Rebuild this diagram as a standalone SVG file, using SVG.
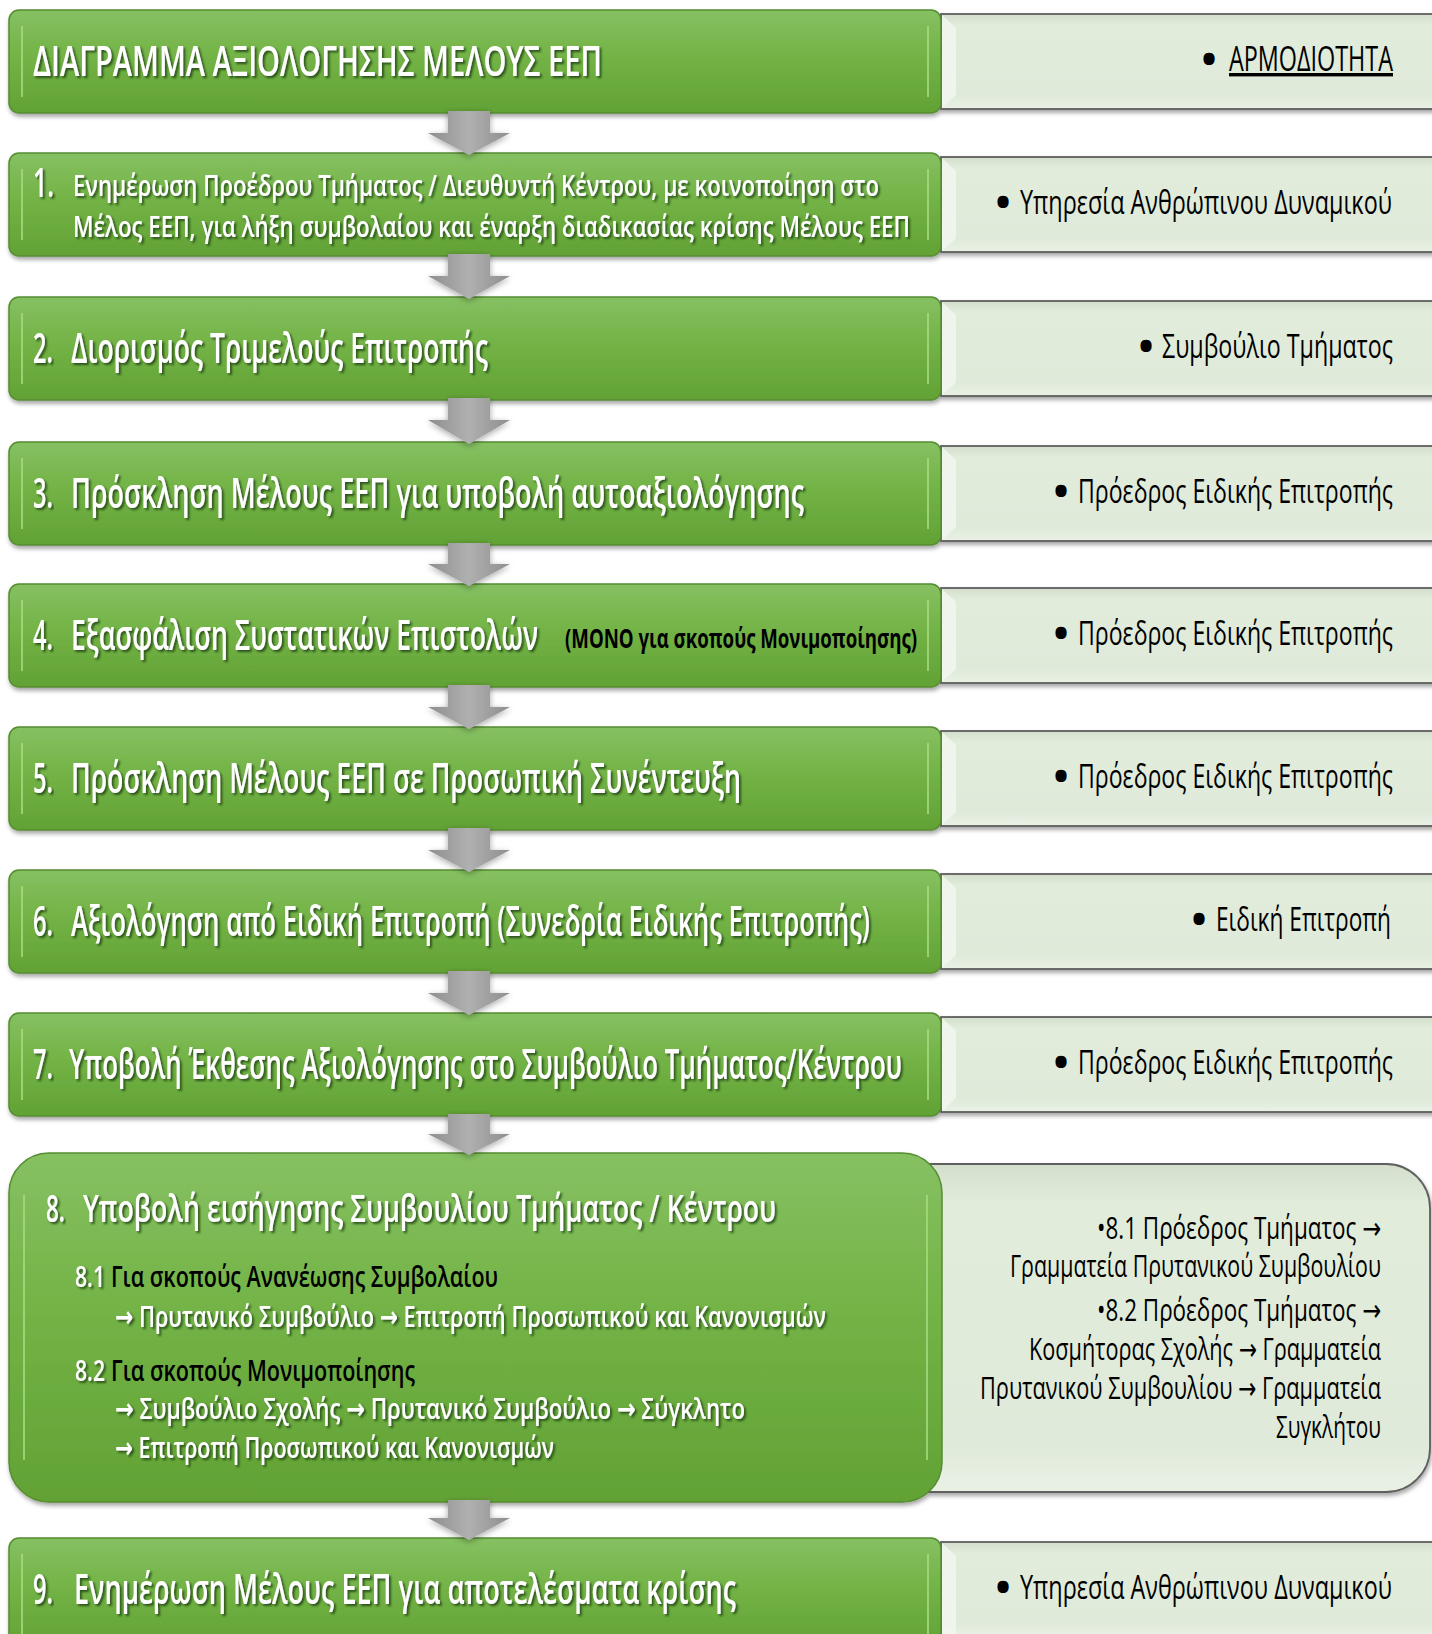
<svg xmlns="http://www.w3.org/2000/svg" width="1432" height="1634" viewBox="0 0 1432 1634">
<defs>
<linearGradient id="gg" x1="0" y1="0" x2="0" y2="1">
<stop offset="0" stop-color="#86c162"/><stop offset="0.45" stop-color="#73b346"/><stop offset="1" stop-color="#62a235"/>
</linearGradient>
<linearGradient id="rg" x1="0" y1="0" x2="0" y2="1">
<stop offset="0" stop-color="#d3dfcc"/><stop offset="0.12" stop-color="#e1ecdb"/><stop offset="0.85" stop-color="#dfeada"/><stop offset="1" stop-color="#e9f1e5"/>
</linearGradient>
<linearGradient id="ag" x1="0" y1="0" x2="1" y2="0">
<stop offset="0" stop-color="#8e8e8e"/><stop offset="0.5" stop-color="#b0b0b0"/><stop offset="1" stop-color="#8e8e8e"/>
</linearGradient>
<filter id="bs" x="-5%" y="-10%" width="110%" height="130%">
<feDropShadow dx="1" dy="3" stdDeviation="2" flood-color="#000" flood-opacity="0.35"/>
</filter>
<filter id="as" x="-30%" y="-30%" width="160%" height="170%">
<feDropShadow dx="0" dy="2" stdDeviation="3" flood-color="#000" flood-opacity="0.35"/>
</filter>
<filter id="ts" x="-5%" y="-20%" width="110%" height="150%">
<feDropShadow dx="2" dy="2" stdDeviation="1.2" flood-color="#1f3a10" flood-opacity="0.8"/>
</filter>
</defs>
<style>
.g{fill:url(#gg);stroke:#568c31;stroke-width:1.5}
.gb{fill:none;stroke:#a6dc7e;stroke-width:2;stroke-opacity:0.8}
.r{fill:url(#rg);stroke:#5e5e5e;stroke-width:1.8}
.rb{fill:#f3f7f0;opacity:0.8}
.t{font-family:"Open Sans","Noto Sans","DejaVu Sans",sans-serif}
.w{fill:#fff;font-weight:600;filter:url(#ts)}
.k{fill:#000}
.b{fill:#000;text-anchor:middle;font-size:40px;font-weight:bold}
.a{fill:url(#ag);filter:url(#as)}
</style>

<g id="node-title" filter="url(#bs)">
<rect class="r" x="941" y="14" width="500" height="95"/>
<polygon class="rb" points="942,15 956,28 956,95 942,108"/>
<rect class="g" x="9" y="10" width="932" height="103" rx="10"/>
<path class="gb" d="M22,26 V97 M928,26 V97"/>
</g>
<g id="node-1" filter="url(#bs)">
<rect class="r" x="941" y="157" width="500" height="95"/>
<polygon class="rb" points="942,158 956,171 956,238 942,251"/>
<rect class="g" x="9" y="153" width="932" height="103" rx="10"/>
<path class="gb" d="M22,169 V240 M928,169 V240"/>
</g>
<g id="node-2" filter="url(#bs)">
<rect class="r" x="941" y="301" width="500" height="95"/>
<polygon class="rb" points="942,302 956,315 956,382 942,395"/>
<rect class="g" x="9" y="297" width="932" height="103" rx="10"/>
<path class="gb" d="M22,313 V384 M928,313 V384"/>
</g>
<g id="node-3" filter="url(#bs)">
<rect class="r" x="941" y="446" width="500" height="95"/>
<polygon class="rb" points="942,447 956,460 956,527 942,540"/>
<rect class="g" x="9" y="442" width="932" height="103" rx="10"/>
<path class="gb" d="M22,458 V529 M928,458 V529"/>
</g>
<g id="node-4" filter="url(#bs)">
<rect class="r" x="941" y="588" width="500" height="95"/>
<polygon class="rb" points="942,589 956,602 956,669 942,682"/>
<rect class="g" x="9" y="584" width="932" height="103" rx="10"/>
<path class="gb" d="M22,600 V671 M928,600 V671"/>
</g>
<g id="node-5" filter="url(#bs)">
<rect class="r" x="941" y="731" width="500" height="95"/>
<polygon class="rb" points="942,732 956,745 956,812 942,825"/>
<rect class="g" x="9" y="727" width="932" height="103" rx="10"/>
<path class="gb" d="M22,743 V814 M928,743 V814"/>
</g>
<g id="node-6" filter="url(#bs)">
<rect class="r" x="941" y="874" width="500" height="95"/>
<polygon class="rb" points="942,875 956,888 956,955 942,968"/>
<rect class="g" x="9" y="870" width="932" height="103" rx="10"/>
<path class="gb" d="M22,886 V957 M928,886 V957"/>
</g>
<g id="node-7" filter="url(#bs)">
<rect class="r" x="941" y="1017" width="500" height="95"/>
<polygon class="rb" points="942,1018 956,1031 956,1098 942,1111"/>
<rect class="g" x="9" y="1013" width="932" height="103" rx="10"/>
<path class="gb" d="M22,1029 V1100 M928,1029 V1100"/>
</g>
<g id="node-8" filter="url(#bs)">
<path class="r" d="M925,1164 H1386 A44,44 0 0 1 1430,1208 V1448 A44,44 0 0 1 1386,1492 H925 Z"/>
<rect class="g" x="9" y="1153" width="933" height="349" rx="40"/>
<path class="gb" d="M24,1195 V1460 M927,1195 V1460"/>
</g>
<g id="node-9" filter="url(#bs)">
<rect class="r" x="941" y="1542" width="500" height="95"/>
<polygon class="rb" points="942,1543 956,1556 956,1634 942,1634"/>
<rect class="g" x="9" y="1538" width="932" height="110" rx="10"/>
<path class="gb" d="M22,1554 V1634 M928,1554 V1634"/>
</g>

<g id="connectors">
<path class="a" d="M448,111 H490 V133 H510 L469,155 L428,133 H448 Z"/>
<path class="a" d="M448,254 H490 V276 H510 L469,299 L428,276 H448 Z"/>
<path class="a" d="M448,398 H490 V420 H510 L469,444 L428,420 H448 Z"/>
<path class="a" d="M448,543 H490 V564 H510 L469,586 L428,564 H448 Z"/>
<path class="a" d="M448,685 H490 V707 H510 L469,729 L428,707 H448 Z"/>
<path class="a" d="M448,828 H490 V850 H510 L469,872 L428,850 H448 Z"/>
<path class="a" d="M448,971 H490 V993 H510 L469,1015 L428,993 H448 Z"/>
<path class="a" d="M448,1114 H490 V1134 H510 L469,1155 L428,1134 H448 Z"/>
<path class="a" d="M448,1500 H490 V1518 H510 L469,1540 L428,1518 H448 Z"/>
</g>

<g id="labels" class="t">
<text class="w" x="33" y="76" font-size="41" textLength="569" lengthAdjust="spacingAndGlyphs">ΔΙΑΓΡΑΜΜΑ ΑΞΙΟΛΟΓΗΣΗΣ ΜΕΛΟΥΣ ΕΕΠ</text>
<text class="b" x="1209" y="73">•</text>
<text class="k" x="1229" y="71" font-size="34" textLength="164" lengthAdjust="spacingAndGlyphs" text-decoration="underline">ΑΡΜΟΔΙΟΤΗΤΑ</text>

<text class="w" x="33" y="197" font-size="40" font-weight="bold" textLength="21" lengthAdjust="spacingAndGlyphs">1.</text>
<text class="w" x="73" y="196" font-size="28" textLength="806" lengthAdjust="spacingAndGlyphs">Ενημέρωση Προέδρου Τμήματος / Διευθυντή Κέντρου, με κοινοποίηση στο</text>
<text class="w" x="73" y="237" font-size="28" textLength="837" lengthAdjust="spacingAndGlyphs">Μέλος ΕΕΠ, για λήξη συμβολαίου και έναρξη διαδικασίας κρίσης Μέλους ΕΕΠ</text>
<text class="b" x="1003" y="216">•</text>
<text class="k" x="1020" y="214" font-size="33" textLength="372" lengthAdjust="spacingAndGlyphs">Υπηρεσία Ανθρώπινου Δυναμικού</text>

<text class="w" x="33" y="363" font-size="41" textLength="20" lengthAdjust="spacingAndGlyphs">2.</text>
<text class="w" x="71" y="363" font-size="41" textLength="417" lengthAdjust="spacingAndGlyphs">Διορισμός Τριμελούς Επιτροπής</text>
<text class="b" x="1146" y="360">•</text>
<text class="k" x="1162" y="358" font-size="33" textLength="231" lengthAdjust="spacingAndGlyphs">Συμβούλιο Τμήματος</text>

<text class="w" x="33" y="508" font-size="41" textLength="20" lengthAdjust="spacingAndGlyphs">3.</text>
<text class="w" x="71" y="508" font-size="41" textLength="733" lengthAdjust="spacingAndGlyphs">Πρόσκληση Μέλους ΕΕΠ για υποβολή αυτοαξιολόγησης</text>
<text class="b" x="1061" y="505">•</text>
<text class="k" x="1078" y="503" font-size="33" textLength="315" lengthAdjust="spacingAndGlyphs">Πρόεδρος Ειδικής Επιτροπής</text>

<text class="w" x="33" y="650" font-size="41" textLength="20" lengthAdjust="spacingAndGlyphs">4.</text>
<text class="w" x="71" y="650" font-size="41" textLength="467" lengthAdjust="spacingAndGlyphs">Εξασφάλιση Συστατικών Επιστολών</text>
<text class="k" x="565" y="648" font-size="26" font-weight="bold" textLength="352" lengthAdjust="spacingAndGlyphs">(ΜΟΝΟ για σκοπούς Μονιμοποίησης)</text>
<text class="b" x="1061" y="647">•</text>
<text class="k" x="1078" y="645" font-size="33" textLength="315" lengthAdjust="spacingAndGlyphs">Πρόεδρος Ειδικής Επιτροπής</text>

<text class="w" x="33" y="793" font-size="41" textLength="20" lengthAdjust="spacingAndGlyphs">5.</text>
<text class="w" x="71" y="793" font-size="41" textLength="670" lengthAdjust="spacingAndGlyphs">Πρόσκληση Μέλους ΕΕΠ σε Προσωπική Συνέντευξη</text>
<text class="b" x="1061" y="790">•</text>
<text class="k" x="1078" y="788" font-size="33" textLength="315" lengthAdjust="spacingAndGlyphs">Πρόεδρος Ειδικής Επιτροπής</text>

<text class="w" x="33" y="936" font-size="41" textLength="20" lengthAdjust="spacingAndGlyphs">6.</text>
<text class="w" x="71" y="936" font-size="41" textLength="799" lengthAdjust="spacingAndGlyphs">Αξιολόγηση από Ειδική Επιτροπή (Συνεδρία Ειδικής Επιτροπής)</text>
<text class="b" x="1199" y="933">•</text>
<text class="k" x="1216" y="931" font-size="33" textLength="175" lengthAdjust="spacingAndGlyphs">Ειδική Επιτροπή</text>

<text class="w" x="33" y="1079" font-size="41" textLength="20" lengthAdjust="spacingAndGlyphs">7.</text>
<text class="w" x="69" y="1079" font-size="41" textLength="833" lengthAdjust="spacingAndGlyphs">Υποβολή Έκθεσης Αξιολόγησης στο Συμβούλιο Τμήματος/Κέντρου</text>
<text class="b" x="1061" y="1076">•</text>
<text class="k" x="1078" y="1074" font-size="33" textLength="315" lengthAdjust="spacingAndGlyphs">Πρόεδρος Ειδικής Επιτροπής</text>

<text class="w" x="46" y="1222" font-size="37" textLength="19" lengthAdjust="spacingAndGlyphs">8.</text>
<text class="w" x="83" y="1222" font-size="37" textLength="693" lengthAdjust="spacingAndGlyphs">Υποβολή εισήγησης Συμβουλίου Τμήματος / Κέντρου</text>
<text class="w" x="75" y="1287" font-size="29" textLength="30" lengthAdjust="spacingAndGlyphs">8.1</text>
<text class="k" x="111" y="1287" font-size="29" font-weight="600" textLength="387" lengthAdjust="spacingAndGlyphs">Για σκοπούς Ανανέωσης Συμβολαίου</text>
<text class="w" x="115" y="1327" font-size="29" textLength="711" lengthAdjust="spacingAndGlyphs">→ Πρυτανικό Συμβούλιο →  Επιτροπή Προσωπικού και Κανονισμών</text>
<text class="w" x="75" y="1381" font-size="29" textLength="30" lengthAdjust="spacingAndGlyphs">8.2</text>
<text class="k" x="111" y="1381" font-size="29" font-weight="600" textLength="304" lengthAdjust="spacingAndGlyphs">Για σκοπούς Μονιμοποίησης</text>
<text class="w" x="115" y="1419" font-size="29" textLength="630" lengthAdjust="spacingAndGlyphs">→ Συμβούλιο Σχολής →  Πρυτανικό Συμβούλιο →  Σύγκλητο</text>
<text class="w" x="115" y="1458" font-size="29" textLength="439" lengthAdjust="spacingAndGlyphs">→ Επιτροπή  Προσωπικού και Κανονισμών</text>

<text class="k" x="1097" y="1239" font-size="31" textLength="284" lengthAdjust="spacingAndGlyphs">•8.1  Πρόεδρος Τμήματος →</text>
<text class="k" x="1010" y="1277" font-size="31" textLength="371" lengthAdjust="spacingAndGlyphs">Γραμματεία Πρυτανικού  Συμβουλίου</text>
<text class="k" x="1097" y="1321" font-size="31" textLength="284" lengthAdjust="spacingAndGlyphs">•8.2  Πρόεδρος Τμήματος →</text>
<text class="k" x="1029" y="1360" font-size="31" textLength="352" lengthAdjust="spacingAndGlyphs">Κοσμήτορας Σχολής → Γραμματεία</text>
<text class="k" x="980" y="1399" font-size="31" textLength="401" lengthAdjust="spacingAndGlyphs">Πρυτανικού  Συμβουλίου → Γραμματεία</text>
<text class="k" x="1276" y="1438" font-size="31" textLength="105" lengthAdjust="spacingAndGlyphs">Συγκλήτου</text>

<text class="w" x="33" y="1604" font-size="41" textLength="20" lengthAdjust="spacingAndGlyphs">9.</text>
<text class="w" x="74" y="1604" font-size="41" textLength="662" lengthAdjust="spacingAndGlyphs">Ενημέρωση Μέλους ΕΕΠ για αποτελέσματα κρίσης</text>
<text class="b" x="1003" y="1601">•</text>
<text class="k" x="1020" y="1599" font-size="33" textLength="372" lengthAdjust="spacingAndGlyphs">Υπηρεσία Ανθρώπινου Δυναμικού</text>
</g>
</svg>
